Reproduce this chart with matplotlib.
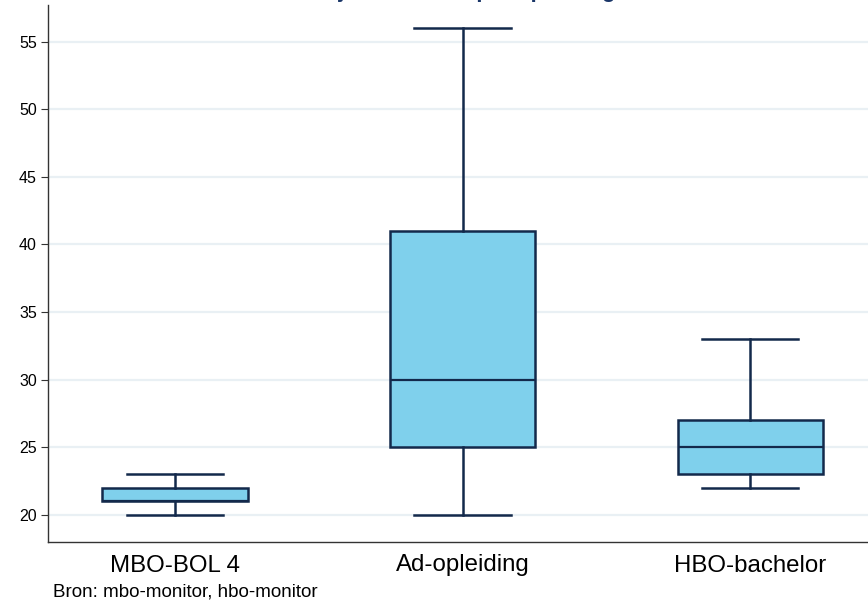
import matplotlib.pyplot as plt

plt.rcParams['font.family'] = ['Liberation Sans', 'DejaVu Sans']

# Leeftijd per opleiding (boxplot-statistieken)
categories = ['MBO-BOL 4', 'Ad-opleiding', 'HBO-bachelor']
whisker_low = [20, 20, 22]
q1 = [21, 25, 23]
median = [21, 30, 25]
q3 = [22, 41, 27]
whisker_high = [23, 56, 33]
y_ticks = [20, 25, 30, 35, 40, 45, 50, 55]

fig = plt.figure(figsize=(8.68, 6.03), dpi=100)
ax = fig.add_axes([48 / 868, (603 - 542) / 603, 820 / 868, (542 - 5) / 603])

stats = []
for i, name in enumerate(categories):
    stats.append({'label': name, 'whislo': whisker_low[i], 'q1': q1[i],
                  'med': median[i], 'q3': q3[i], 'whishi': whisker_high[i],
                  'fliers': []})

edge = '#13294b'
ax.bxp(stats, positions=[1, 2, 3], widths=0.505, capwidths=0.335,
       patch_artist=True, showfliers=False,
       boxprops=dict(facecolor='#7fd0ec', edgecolor=edge, linewidth=1.8),
       medianprops=dict(color=edge, linewidth=1.6),
       whiskerprops=dict(color=edge, linewidth=1.8),
       capprops=dict(color=edge, linewidth=1.8))

ax.set_xlim(0.558, 3.41)
ax.set_ylim(18, 57.7)
ax.set_yticks(y_ticks)
ax.yaxis.grid(True, color='#e9f0f4', linewidth=1.6)
ax.set_axisbelow(True)

for s in ['top', 'right']:
    ax.spines[s].set_visible(False)
for s in ['left', 'bottom']:
    ax.spines[s].set_color('#333333')
    ax.spines[s].set_linewidth(1.0)

ax.tick_params(axis='y', labelsize=11.5, length=5, color='#333333', pad=3)
ax.tick_params(axis='x', labelsize=17.3, length=0, pad=9)

# titel valt grotendeels buiten beeld, zoals in het origineel
fig.text(0.515, 1.0 + 2.5 / 603, 'Leeftijd studenten per opleiding', ha='center',
         va='baseline', fontsize=16, fontweight='bold', color='#1a3668')

fig.text(53 / 868, 1 - 592 / 603, 'Bron: mbo-monitor, hbo-monitor',
         fontsize=13.5, va='center', ha='left')

fig.savefig('out.png', dpi=100)
